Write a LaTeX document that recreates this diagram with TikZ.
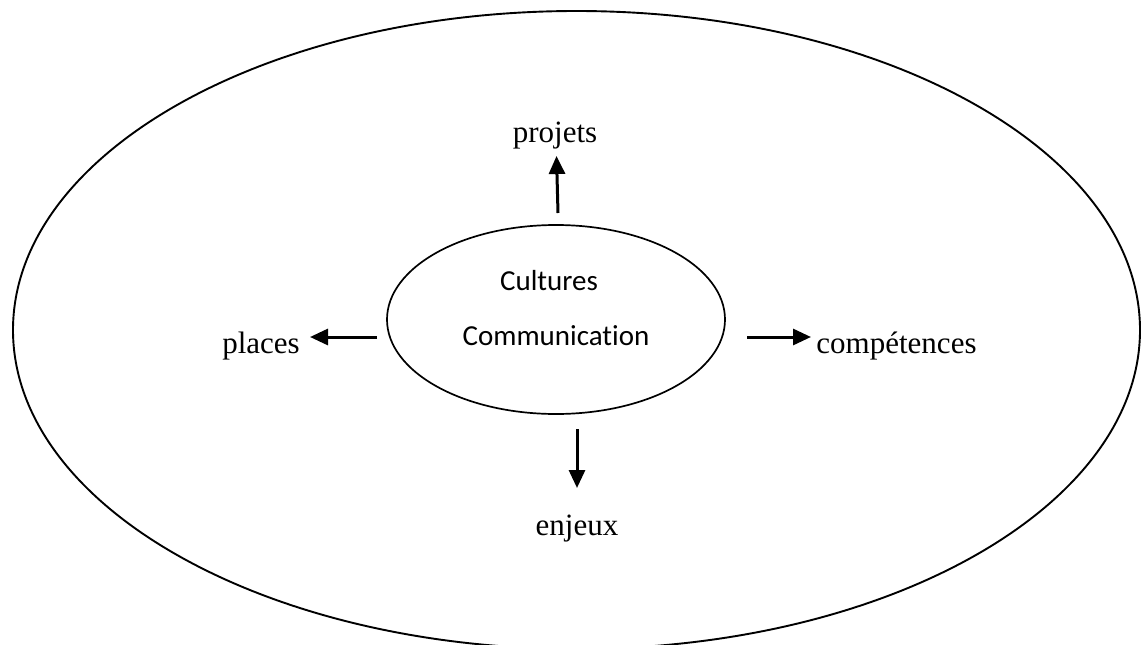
\documentclass[tikz,border=0pt]{standalone}
\usepackage{fontspec}
\setmainfont{Liberation Serif}
\newfontfamily\calibrifont[Ligatures=NoCommon]{Carlito}
\usetikzlibrary{shapes.geometric,arrows.meta}
\begin{document}
\begin{tikzpicture}[x=1pt,y=-1pt,
  lbl/.style={anchor=base,inner sep=0pt,font=\fontsize{31}{31}\selectfont},
  inlbl/.style={anchor=base,inner sep=0pt,font=\calibrifont\fontsize{29}{29}\selectfont},
  arr/.style={line width=3pt,-{Triangle[length=18pt,width=16pt]}},
  ring/.style={draw,ellipse,line width=1.9pt,inner sep=0pt}]
\useasboundingbox (0,0) rectangle (1141,645);
\node[ring,minimum width=1127pt,minimum height=638pt] (outer) at (576.5,330) {};
\node[ring,line width=1.7pt,minimum width=338pt,minimum height=189pt] (inner) at (556,319.5) {};
\node[inlbl] (cult) at (549,290) {Cultures};
\node[inlbl] (comm) at (556,345) {Communication};
\node[lbl] (proj) at (555,142) {projets};
\node[lbl] (plac) at (261,353) {places};
\node[lbl] (comp) at (896.5,353) {compétences};
\node[lbl] (enj) at (577,535) {enjeux};
\coordinate (upS) at (558,213);
\coordinate (upE) at (556.5,156);
\coordinate (lS) at (377,337);
\coordinate (lE) at (310,337);
\coordinate (rS) at (747,337);
\coordinate (rE) at (811,337);
\coordinate (dS) at (577,429);
\coordinate (dE) at (577,488);
\draw[arr] (upS) -- (upE);
\draw[arr] (lS) -- (lE);
\draw[arr] (rS) -- (rE);
\draw[arr] (dS) -- (dE);
\end{tikzpicture}
\end{document}
